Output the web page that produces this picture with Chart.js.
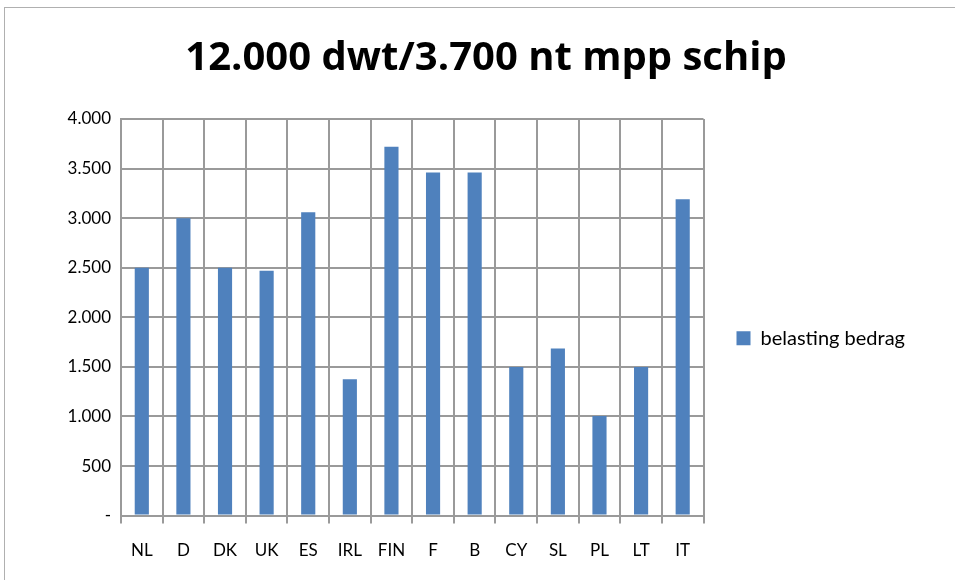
<!DOCTYPE html>
<html>
<head>
<meta charset="utf-8">
<script src="https://cdn.jsdelivr.net/npm/chart.js@4.4.0/dist/chart.umd.min.js"></script>
<style>
  body { margin: 0; background: #fff; }
  #wrap { position: absolute; left: 4px; top: 7px; width: 950px; height: 572px; border: 1px solid #b0b0b0; border-right: none; border-bottom: none; }
</style>
</head>
<body>
<div id="wrap"><canvas id="c" width="950" height="572"></canvas></div>
<script>
// data
const landen = ['NL', 'D', 'DK', 'UK', 'ES', 'IRL', 'FIN', 'F', 'B', 'CY', 'SL', 'PL', 'LT', 'IT']
const bedrag = [2500, 3000, 2500, 2470, 3060, 1375, 3720, 3460, 3460, 1500, 1685, 1005, 1500, 3190]
const yTicks = [0, 500, 1000, 1500, 2000, 2500, 3000, 3500, 4000]

const fmt = v => v === 0 ? '-' : v.toLocaleString('nl-NL')
const font = 'Lato, "Open Sans", sans-serif'
const gridKleur = '#9a9a9a'

new Chart(document.getElementById('c'), {
  type: 'bar',
  data: {
    labels: landen,
    datasets: [{
      label: 'belasting bedrag',
      data: bedrag,
      backgroundColor: '#4f81bd',
      barPercentage: 0.34,
      categoryPercentage: 1
    }]
  },
  options: {
    responsive: false,
    animation: false,
    layout: { padding: { left: 52, right: 40, top: 0, bottom: 2 } },
    plugins: {
      title: {
        display: true,
        text: '12.000 dwt/3.700 nt mpp schip',
        color: '#000',
        font: { family: '"Open Sans", Lato, sans-serif', size: 40, weight: 'bold' },
        padding: { top: 27, bottom: 36 }
      },
      legend: {
        position: 'right',
        fullSize: false,
        title: { display: true, text: ' ', padding: 15, font: { size: 10 } },
        labels: {
          color: '#000',
          font: { family: font, size: 20 },
          boxWidth: 14, boxHeight: 14,
          padding: 33
        }
      },
      tooltip: { enabled: false }
    },
    scales: {
      y: {
        min: 0, max: 4000,
        afterBuildTicks: s => { s.ticks = yTicks.map(v => ({ value: v })) },
        afterFit: s => { s.width = 64 },
        ticks: { color: '#000', font: { family: font, size: 17 }, padding: 10, callback: fmt },
        grid: { color: gridKleur, lineWidth: 2, drawTicks: false },
        border: { color: gridKleur, width: 2 }
      },
      x: {
        ticks: { color: '#000', font: { family: font, size: 17 }, padding: 17 },
        grid: { color: gridKleur, lineWidth: 2, offset: true, tickLength: 8 },
        border: { color: gridKleur, width: 2 }
      }
    }
  }
})
</script>
</body>
</html>
